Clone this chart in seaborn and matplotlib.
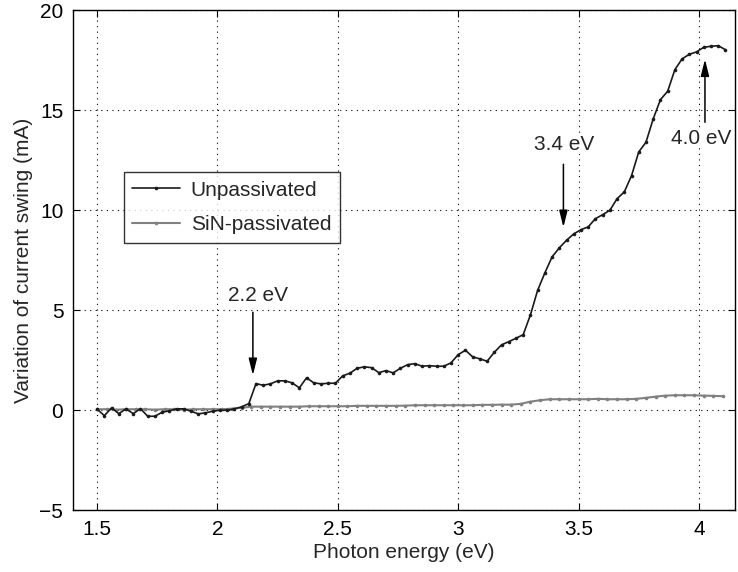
import numpy as np
import pandas as pd
import matplotlib
matplotlib.use("Agg")
import matplotlib.pyplot as plt
import seaborn as sns

# ----------------------------------------------------------
# Data
# ----------------------------------------------------------
unpass_energy = [
    1.50, 1.53, 1.56, 1.59, 1.62, 1.65, 1.68, 1.71, 1.74, 1.77,
    1.80, 1.83, 1.86, 1.89, 1.92, 1.95, 1.98, 2.01, 2.04, 2.07,
    2.10, 2.13, 2.16, 2.19, 2.22, 2.25, 2.28, 2.31, 2.34, 2.37,
    2.40, 2.43, 2.46, 2.49, 2.52, 2.55, 2.58, 2.61, 2.64, 2.67,
    2.70, 2.73, 2.76, 2.79, 2.82, 2.85, 2.88, 2.91, 2.94, 2.97,
    3.00, 3.03, 3.06, 3.09, 3.12, 3.15, 3.18, 3.21, 3.24, 3.27,
    3.30, 3.33, 3.36, 3.39, 3.42, 3.45, 3.48, 3.51, 3.54, 3.57,
    3.60, 3.63, 3.66, 3.69, 3.72, 3.75, 3.78, 3.81, 3.84, 3.87,
    3.90, 3.93, 3.96, 3.99, 4.02, 4.05, 4.08, 4.11,
]
unpass_swing = [
    0.05, -0.27, 0.12, -0.17, 0.07, -0.17, 0.08, -0.30, -0.30, -0.10,
    -0.03, 0.07, 0.07, -0.05, -0.18, -0.13, -0.05, 0.00, 0.00, 0.07,
    0.17, 0.33, 1.33, 1.25, 1.32, 1.47, 1.47, 1.37, 1.12, 1.62,
    1.37, 1.32, 1.35, 1.35, 1.72, 1.85, 2.10, 2.17, 2.13, 1.88,
    1.98, 1.87, 2.10, 2.28, 2.33, 2.20, 2.23, 2.20, 2.20, 2.37,
    2.78, 3.00, 2.67, 2.57, 2.45, 2.90, 3.27, 3.43, 3.60, 3.78,
    4.77, 6.00, 6.87, 7.67, 8.12, 8.50, 8.82, 9.03, 9.17, 9.58,
    9.78, 10.00, 10.58, 10.92, 11.73, 12.92, 13.40, 14.57, 15.53, 15.95,
    17.03, 17.57, 17.80, 17.92, 18.15, 18.20, 18.23, 18.03,
]

sin_energy = [
    1.50, 1.54, 1.58, 1.62, 1.66, 1.70, 1.74, 1.78, 1.82, 1.86,
    1.90, 1.94, 1.98, 2.02, 2.06, 2.10, 2.14, 2.18, 2.22, 2.26,
    2.30, 2.34, 2.38, 2.42, 2.46, 2.50, 2.54, 2.58, 2.62, 2.66,
    2.70, 2.74, 2.78, 2.82, 2.86, 2.90, 2.94, 2.98, 3.02, 3.06,
    3.10, 3.14, 3.18, 3.22, 3.26, 3.30, 3.34, 3.38, 3.42, 3.46,
    3.50, 3.54, 3.58, 3.62, 3.66, 3.70, 3.74, 3.78, 3.82, 3.86,
    3.90, 3.94, 3.98, 4.02, 4.06, 4.10,
]
sin_swing = [
    0.05, 0.05, 0.03, 0.05, 0.05, 0.05, 0.03, 0.05, 0.05, 0.03,
    0.05, 0.05, 0.05, 0.05, 0.08, 0.12, 0.18, 0.18, 0.18, 0.18,
    0.18, 0.18, 0.20, 0.20, 0.20, 0.20, 0.20, 0.22, 0.22, 0.22,
    0.22, 0.22, 0.23, 0.25, 0.25, 0.25, 0.25, 0.25, 0.25, 0.25,
    0.27, 0.27, 0.28, 0.28, 0.32, 0.43, 0.50, 0.55, 0.55, 0.55,
    0.55, 0.55, 0.57, 0.55, 0.55, 0.55, 0.57, 0.62, 0.68, 0.73,
    0.75, 0.75, 0.75, 0.73, 0.72, 0.70,
]

x_ticks = [1.5, 2, 2.5, 3, 3.5, 4]
x_tick_labels = ["1.5", "2", "2.5", "3", "3.5", "4"]
y_ticks = [-5, 0, 5, 10, 15, 20]
y_tick_labels = ["\u22125", "0", "5", "10", "15", "20"]

# annotations: label, text position, arrow tail, arrow tip
annot_labels = ["2.2 eV", "3.4 eV", "4.0 eV"]
annot_text_xy = [(2.17, 5.75), (3.44, 13.3), (4.01, 13.6)]
annot_tail_xy = [(2.147, 4.9), (3.437, 12.3), (4.025, 14.4)]
annot_tip_xy = [(2.147, 1.75), (3.437, 9.15), (4.025, 17.55)]

# ----------------------------------------------------------
# Plot
# ----------------------------------------------------------
sns.set_style("ticks")
plt.rcParams["font.family"] = ["Liberation Sans", "DejaVu Sans"]
FS = 15

df_un = pd.DataFrame({"energy": unpass_energy, "swing": unpass_swing})
df_sin = pd.DataFrame({"energy": sin_energy, "swing": sin_swing})

fig = plt.figure(figsize=(7.38, 5.72), dpi=100)
ax = fig.add_axes([0.099, 0.108, 0.897, 0.874])

sns.lineplot(data=df_un, x="energy", y="swing", ax=ax, color="#1a1a1a",
             linewidth=1.2, marker="o", markersize=2.6, markeredgewidth=0,
             label="Unpassivated", zorder=3)
sns.lineplot(data=df_sin, x="energy", y="swing", ax=ax, color="#808080",
             linewidth=1.5, marker="o", markersize=2.6, markeredgewidth=0,
             label="SiN-passivated", zorder=2)

ax.set_xlim(1.4, 4.15)
ax.set_ylim(-5, 20)
ax.set_xticks(x_ticks)
ax.set_xticklabels(x_tick_labels)
ax.set_yticks(y_ticks)
ax.set_yticklabels(y_tick_labels)
ax.tick_params(direction="in", top=True, right=True, length=5, width=0.8,
               labelsize=FS, colors="black", pad=7)
ax.grid(True, color="black", linestyle=(0, (1, 4)), linewidth=0.8)
for s in ax.spines.values():
    s.set_linewidth(1.0)
    s.set_color("black")

ax.set_xlabel("Photon energy (eV)", fontsize=FS, labelpad=3)
ax.set_ylabel("Variation of current swing (mA)", fontsize=FS, labelpad=5)

# arrows marking the onset energies
for lab, txy, tail, tip in zip(annot_labels, annot_text_xy, annot_tail_xy, annot_tip_xy):
    ax.text(txy[0], txy[1], lab, ha="center", va="center", fontsize=FS,
            bbox=dict(facecolor="white", edgecolor="none", pad=0.5))
    ax.annotate("", xy=tip, xytext=tail,
                arrowprops=dict(arrowstyle="-|>,head_length=1.0,head_width=0.25",
                                color="black", lw=1.1, shrinkA=0, shrinkB=0))

leg = ax.legend(loc="upper left", bbox_to_anchor=(0.077, 0.676), borderaxespad=0,
                fontsize=FS, frameon=True, fancybox=False, numpoints=1,
                handlelength=2.3, borderpad=0.4, labelspacing=0.75,
                handletextpad=0.5)
leg.get_frame().set_edgecolor("black")
leg.get_frame().set_linewidth(1.0)

fig.savefig("out.png", dpi=100)
